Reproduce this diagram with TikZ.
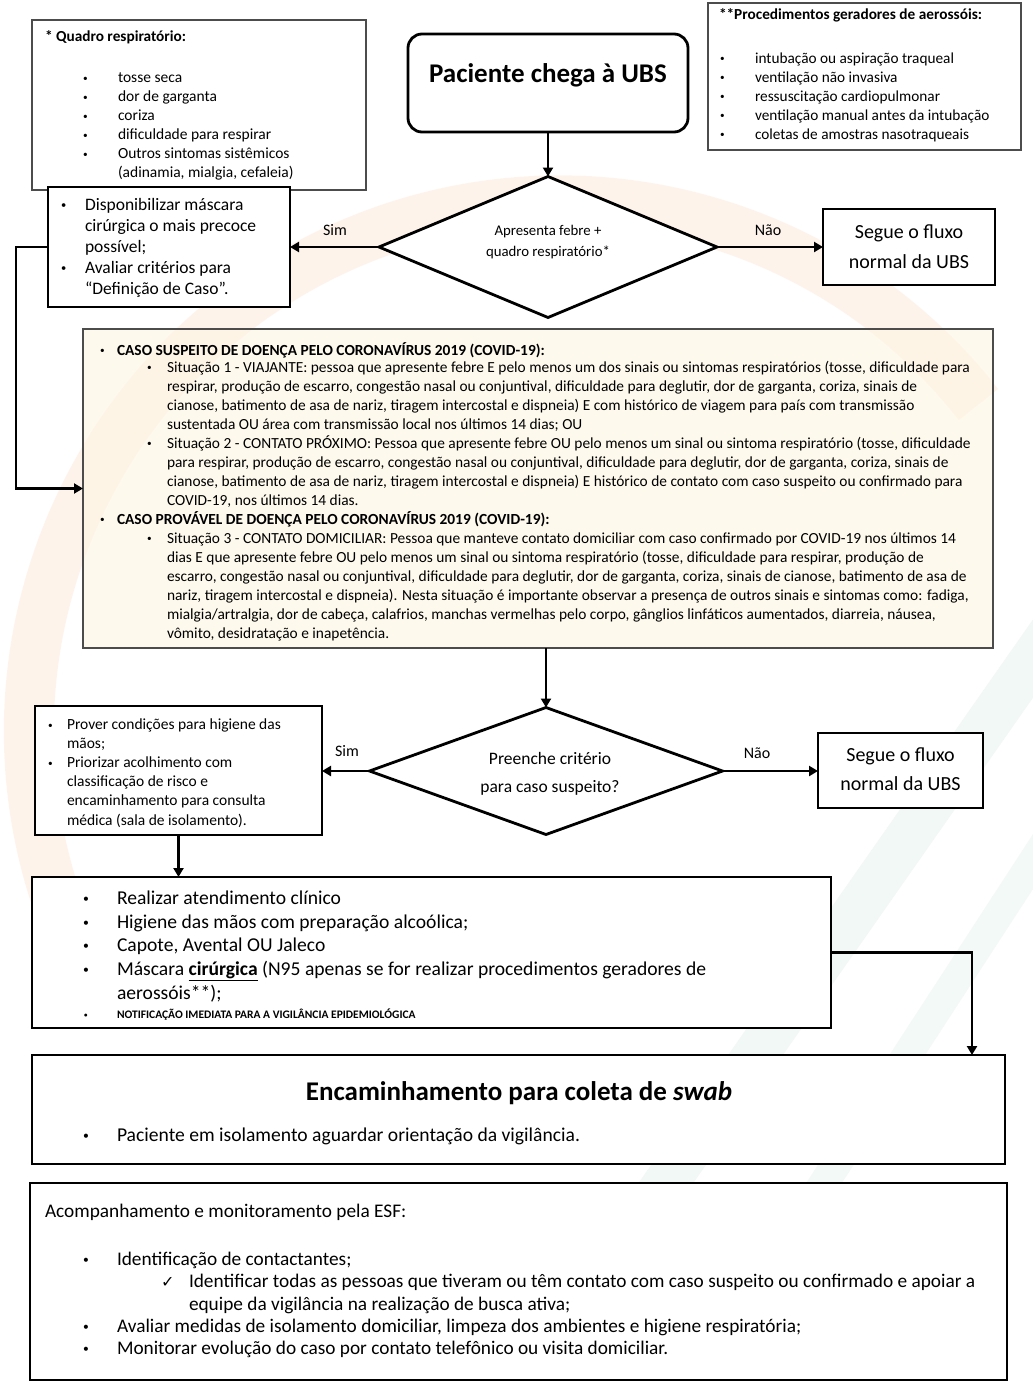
\documentclass[tikz,border=0pt]{standalone}
\usepackage{fontspec}
\usepackage{graphicx}
\setmainfont{Carlito}
\newfontfamily\symf{DejaVu Sans}
\usetikzlibrary{arrows.meta,shapes.geometric}
\definecolor{cream}{RGB}{253,245,226}
\definecolor{peach}{RGB}{250,218,192}
\definecolor{mint}{RGB}{226,240,234}
\newcommand\fs[2]{\fontsize{#1pt}{#2pt}\selectfont}
\newcommand\bl[1]{\makebox[#1pt][l]{\raisebox{0.1em}{\scalebox{0.6}{\textbullet}}}}
\begin{document}
\begin{tikzpicture}[x=1pt,y=-1pt,
  thinbox/.style={draw=black!70, line width=1.1pt, fill=white, inner sep=0pt, outer sep=0pt, anchor=north west},
  thickbox/.style={draw=black, line width=2.8pt, fill=white, inner sep=0pt, outer sep=0pt, anchor=north west},
  txt/.style={inner sep=0pt, outer sep=0pt, anchor=north west, align=left},
  arr/.style={draw=black, line width=2.8pt, -{Triangle[length=9pt,width=10pt]}},
  lbl/.style={inner sep=0pt, anchor=base, font=\fs{16}{19}},
  decis/.style={diamond, draw=black, line width=2.8pt, fill=white, inner sep=0pt, outer sep=0pt}
]
\useasboundingbox (0,0) rectangle (1033,1382);
% background watermark
\fill[white] (0,0) rectangle (1033,1382);
\shade[top color=white, middle color=cream, bottom color=white] (0,260) rectangle (1033,1200);
\draw[peach, line width=50pt, opacity=0.3] (61,913) arc[start angle=160, end angle=322, radius=531];
\draw[mint, line width=45pt, opacity=0.45] (1060,620) -- (640,1220);
\draw[mint, line width=30pt, opacity=0.4] (1060,820) -- (800,1220);

% top boxes
\node[thinbox, minimum width=334pt, minimum height=170pt] (quadro) at (32,20) {};
\node[txt, font=\bfseries\fs{15.3}{19}] (quadrot) at (45,28) {\strut* Quadro respiratório:};
\node[txt, font=\fs{15.5}{19}] (quadrol) at (83,69.3) {\strut\bl{35}tosse seca\\
\bl{35}dor de garganta\\
\bl{35}coriza\\
\bl{35}dificuldade para respirar\\
\bl{35}Outros sintomas sistêmicos\\
\hspace*{35pt}(adinamia, mialgia, cefaleia)};

\node[thinbox, minimum width=313pt, minimum height=147pt] (proc) at (708,3) {};
\node[txt, font=\bfseries\fs{15.3}{19}] (proct) at (719,6.2) {\strut**Procedimentos geradores de aerossóis:};
\node[txt, font=\fs{15.3}{19}] (procl) at (720,50.2) {\strut\bl{35}intubação ou aspiração traqueal\\
\bl{35}ventilação não invasiva\\
\bl{35}ressuscitação cardiopulmonar\\
\bl{35}ventilação manual antes da intubação\\
\bl{35}coletas de amostras nasotraqueais};

\node[thickbox, rounded corners=14pt, minimum width=280pt, minimum height=98pt] (pac) at (408,34) {};
\node[inner sep=0pt, anchor=base, font=\bfseries\fs{27}{32}] (pact) at (548,82) {Paciente chega à UBS};

% decision 1
\node[decis, minimum width=338pt, minimum height=141pt] (d1) at (548,247) {};
\node[inner sep=0pt, anchor=north, align=center, font=\fs{14.8}{21}] (d1t) at (548,220.7) {\strut Apresenta febre +\\quadro respiratório*};

\node[thickbox, minimum width=242pt, minimum height=120pt] (disp) at (48,187) {};
\node[txt, font=\fs{17.5}{21.2}] (dispt) at (61,195.2) {\strut\bl{24}Disponibilizar máscara\\
\hspace*{24pt}cirúrgica o mais precoce\\
\hspace*{24pt}possível;\\
\bl{24}Avaliar critérios para\\
\hspace*{24pt}“Definição de Caso”.};

\node[thickbox, minimum width=172pt, minimum height=76pt, align=center, font=\fs{20}{30}] (seg1) at (823,209) {\strut Segue o fluxo\\normal da UBS\strut};

\draw[arr] (pac.south) -- (d1.north);
\draw[arr] (d1.west) -- (d1.west -| disp.east);
\draw[arr] (d1.east) -- (d1.east -| seg1.west);
\node[lbl] (sim1) at (335,235.5) {Sim};
\node[lbl] (nao1) at (768,235.5) {Não};

% big box
\node[thinbox, fill=cream, fill opacity=0.6, minimum width=910pt, minimum height=319pt] (big) at (83,329) {};
\draw[arr] (disp.west) -- ++(-32,0) |- (big.west);
\node[txt, font=\fs{15.4}{19}] (bigt) at (100,342.2) {\strut\bl{17}\textbf{CASO SUSPEITO DE DOENÇA PELO CORONAVÍRUS 2019 (COVID-19):}\\[-2.5pt]
\hspace*{47pt}\bl{20}Situação 1 - VIAJANTE: pessoa que apresente febre E pelo menos um dos sinais ou sintomas respiratórios (tosse, dificuldade para\\
\hspace*{67pt}respirar, produção de escarro, congestão nasal ou conjuntival, dificuldade para deglutir, dor de garganta, coriza, sinais de\\
\hspace*{67pt}cianose, batimento de asa de nariz, tiragem intercostal e dispneia) E com histórico de viagem para país com transmissão\\
\hspace*{67pt}sustentada OU área com transmissão local nos últimos 14 dias; OU\\
\hspace*{47pt}\bl{20}Situação 2 - CONTATO PRÓXIMO: Pessoa que apresente febre OU pelo menos um sinal ou sintoma respiratório (tosse, dificuldade\\
\hspace*{67pt}para respirar, produção de escarro, congestão nasal ou conjuntival, dificuldade para deglutir, dor de garganta, coriza, sinais de\\
\hspace*{67pt}cianose, batimento de asa de nariz, tiragem intercostal e dispneia) E histórico de contato com caso suspeito ou confirmado para\\
\hspace*{67pt}COVID-19, nos últimos 14 dias.\\
\bl{17}\textbf{CASO PROVÁVEL DE DOENÇA PELO CORONAVÍRUS 2019 (COVID-19):}\\
\hspace*{47pt}\bl{20}Situação 3 - CONTATO DOMICILIAR: Pessoa que manteve contato domiciliar com caso confirmado por COVID-19 nos últimos 14\\
\hspace*{67pt}dias E que apresente febre OU pelo menos um sinal ou sintoma respiratório (tosse, dificuldade para respirar, produção de\\
\hspace*{67pt}escarro, congestão nasal ou conjuntival, dificuldade para deglutir, dor de garganta, coriza, sinais de cianose, batimento de asa de\\
\hspace*{67pt}nariz, tiragem intercostal e dispneia). Nesta situação é importante observar a presença de outros sinais e sintomas como: fadiga,\\
\hspace*{67pt}mialgia/artralgia, dor de cabeça, calafrios, manchas vermelhas pelo corpo, gânglios linfáticos aumentados, diarreia, náusea,\\
\hspace*{67pt}vômito, desidratação e inapetência.};

% decision 2
\node[decis, minimum width=353pt, minimum height=127pt] (d2) at (546,771) {};
\node[inner sep=0pt, anchor=north, align=center, font=\fs{17.5}{28}] (d2t) at (550,744.5) {\strut Preenche critério\\para caso suspeito?};
\draw[arr] (d2.north |- big.south) -- (d2.north);

\node[thickbox, minimum width=287pt, minimum height=129pt] (prov) at (35,706) {};
\node[txt, font=\fs{15.5}{19.1}] (provt) at (48,716.2) {\strut\bl{19}Prover condições para higiene das\\
\hspace*{19pt}mãos;\\
\bl{19}Priorizar acolhimento com\\
\hspace*{19pt}classificação de risco e\\
\hspace*{19pt}encaminhamento para consulta\\
\hspace*{19pt}médica (sala de isolamento).};

\node[thickbox, minimum width=165pt, minimum height=75pt, align=center, font=\fs{20}{29}] (seg2) at (818,733) {\strut Segue o fluxo\\normal da UBS\strut};

\draw[arr] (d2.west) -- (d2.west -| prov.east);
\draw[arr] (d2.east) -- (d2.east -| seg2.west);
\node[lbl] (sim2) at (347,756.5) {Sim};
\node[lbl] (nao2) at (757,758.5) {Não};

% realizar
\node[thickbox, minimum width=799pt, minimum height=151pt] (real) at (32,877) {};
\draw[arr] (prov.south) -- (prov.south |- real.north);
\node[txt, font=\fs{19.6}{23.7}] (realt) at (83,887.9) {\strut\bl{34}Realizar atendimento clínico\\
\bl{34}Higiene das mãos com preparação alcoólica;\\
\bl{34}Capote, Avental OU Jaleco\\
\bl{34}Máscara \underline{\textbf{cirúrgica}} (N95 apenas se for realizar procedimentos geradores de\\
\hspace*{34pt}aerossóis**);};
\node[txt, font=\bfseries\fs{11.5}{14}] (notif) at (84,1008.9) {\strut\bl{33}NOTIFICAÇÃO IMEDIATA PARA A VIGILÂNCIA EPIDEMIOLÓGICA};

% encaminhamento
\node[thickbox, minimum width=973pt, minimum height=109pt] (enc) at (32,1055) {};
\coordinate (encin) at (972,1055);
\draw[arr] (real.east) -| (encin);
\node[inner sep=0pt, anchor=base, font=\bfseries\fs{27}{32}] (enct) at (519,1100) {Encaminhamento para coleta de \textit{swab}};
\node[txt, font=\fs{19.6}{23.7}] (encl) at (83,1124.9) {\strut\bl{34}Paciente em isolamento aguardar orientação da vigilância.};

% acompanhamento
\node[thickbox, minimum width=977pt, minimum height=197pt] (acomp) at (30,1183) {};
\node[txt, font=\fs{19.3}{22.3}] (acompt) at (45,1201.8) {\strut Acompanhamento e monitoramento pela ESF:};
\node[txt, font=\fs{19.3}{22.3}] (acompl) at (83,1249.8) {\strut\bl{34}Identificação de contactantes;\\
\hspace*{78pt}\makebox[28pt][l]{\symf\fs{16}{18}✓}Identificar todas as pessoas que tiveram ou têm contato com caso suspeito ou confirmado e apoiar a\\
\hspace*{106pt}equipe da vigilância na realização de busca ativa;\\
\bl{34}Avaliar medidas de isolamento domiciliar, limpeza dos ambientes e higiene respiratória;\\
\bl{34}Monitorar evolução do caso por contato telefônico ou visita domiciliar.};
\end{tikzpicture}
\end{document}
